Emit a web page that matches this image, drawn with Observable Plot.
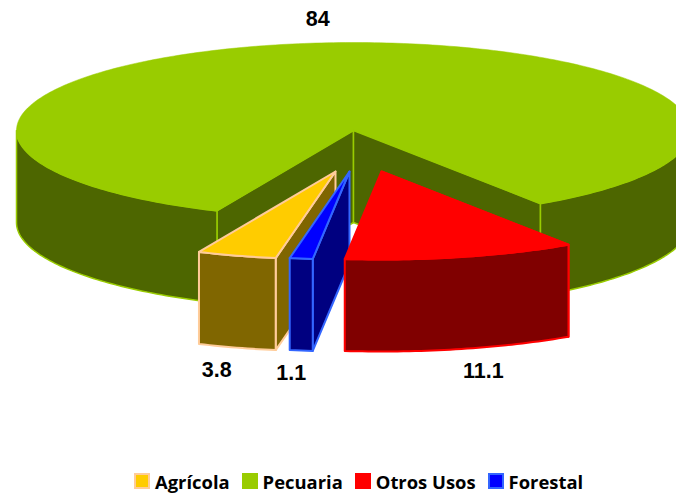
<!DOCTYPE html>
<html>
<head>
<meta charset="utf-8">
<script src="https://cdn.jsdelivr.net/npm/d3@7"></script>
<script src="https://cdn.jsdelivr.net/npm/@observablehq/plot@0.6"></script>
<style>
  html, body { margin: 0; padding: 0; background: #fff; overflow: hidden; }
  #legend { display: flex; justify-content: flex-start; align-items: center; height: 28px; padding-left: 134px;
    font: bold 18.4px "Open Sans", sans-serif; color: #000; white-space: nowrap; }
  #legend .sw { box-sizing: border-box; width: 16px; height: 16px; border-width: 2px; border-style: solid; margin-right: 5px; }
  #legend .it { display: flex; align-items: center; margin-right: 12px; }
</style>
</head>
<body>
<div id="chart"></div>
<div id="legend"></div>
<script>
// Data, in the order the slices run clockwise from the chart's start angle
const categories = ["Otros Usos", "Forestal", "Agrícola", "Pecuaria"];
const values = [11.1, 1.1, 3.8, 84];
const labels = ["11.1", "1.1", "3.8", "84"];
const legendOrder = ["Agrícola", "Pecuaria", "Otros Usos", "Forestal"];

// Styles
const topColors = {"Agrícola": "#ffcc00", "Pecuaria": "#99cc00", "Otros Usos": "#ff0000", "Forestal": "#0000ff"};
const wallColors = {"Agrícola": "#806600", "Pecuaria": "#4d6600", "Otros Usos": "#800000", "Forestal": "#000080"};
const edgeColors = {"Agrícola": "#ffcc99", "Pecuaria": "#99cc00", "Otros Usos": "#ff0000", "Forestal": "#3366ff"};

// 3D pie layout
const W = 676, H = 465;
const cx = 353, cy = 130, rx = 337, ry = 88, depth = 92, startDeg = -33.7;
const explode = {"Agrícola": [-18, 41], "Pecuaria": [0, 0], "Otros Usos": [28, 41], "Forestal": [-4, 41]};
const labelNudge = {"Agrícola": [-20, 22], "Pecuaria": [-7, -24], "Otros Usos": [22, 22], "Forestal": [-10, 23]};

const rad = Math.PI / 180;
const total = d3.sum(values);
let cum = 0;
const slices = categories.map((name, i) => {
  const a0 = startDeg + cum / total * 360;
  cum += values[i];
  const a1 = startDeg + cum / total * 360;
  const [dx, dy] = explode[name];
  return {name, value: values[i], label: labels[i], a0, a1, ox: cx + dx, oy: cy + dy};
});
const pt = (s, deg, z = 0) => ({x: s.ox - rx * Math.sin(deg * rad), y: s.oy + ry * Math.cos(deg * rad) + z});
const arc = (s, a, b, z = 0) => {
  const n = Math.max(2, Math.ceil(Math.abs(b - a)));
  return d3.range(n + 1).map(i => pt(s, a + (b - a) * i / n, z));
};
const apex = (s, z = 0) => ({x: s.ox, y: s.oy + z});

const shape = (pts, fill, stroke, strokeWidth = 2) =>
  Plot.line(pts, {x: "x", y: "y", fill, stroke, strokeWidth, strokeLinejoin: "round", curve: "linear-closed"});

const marks = [];
const get = n => slices.find(s => s.name === n);

// Main slice: inner cut faces, outer wall, top
const g = get("Pecuaria"), gw = wallColors[g.name], ge = edgeColors[g.name], gt = topColors[g.name];
marks.push(shape([apex(g), pt(g, g.a0), pt(g, g.a0, depth), apex(g, depth)], gw, ge, 1.5));
marks.push(shape([apex(g), pt(g, g.a1), pt(g, g.a1, depth), apex(g, depth)], gw, ge, 1.5));
marks.push(shape([...arc(g, g.a0, 90), ...arc(g, 90, g.a0, depth)], gw, ge, 1.5));
marks.push(shape([...arc(g, g.a1, 270), ...arc(g, 270, g.a1, depth)], gw, ge, 1.5));
marks.push(shape([apex(g), ...arc(g, g.a0, g.a1)], gt, gt, 0.5));

// Exploded slices, back to front
for (const n of ["Agrícola", "Forestal", "Otros Usos"]) {
  const s = get(n), w = wallColors[n], e = edgeColors[n], t = topColors[n];
  marks.push(shape([apex(s), pt(s, s.a0), pt(s, s.a0, depth), apex(s, depth)], w, e));
  marks.push(shape([...arc(s, s.a0, s.a1), ...arc(s, s.a1, s.a0, depth)], w, e));
  marks.push(shape([apex(s), ...arc(s, s.a0, s.a1)], t, e));
}

// Value labels
const labelRows = slices.map(s => {
  const mid = (s.a0 + s.a1) / 2;
  const front = s.name !== "Pecuaria";
  const p = pt(s, mid, front ? depth : 0);
  const [nx, ny] = labelNudge[s.name];
  return {x: p.x + nx, y: p.y + ny, text: s.label};
});
marks.push(Plot.text(labelRows, {
  x: "x", y: "y", text: "text", fill: "#000",
  fontFamily: "Liberation Sans", fontWeight: "bold", fontSize: 21.5, textAnchor: "middle"
}));

document.getElementById("chart").append(Plot.plot({
  width: W, height: H + 2,
  margin: 0,
  x: {domain: [0, W], range: [0, W], axis: null},
  y: {domain: [0, H], range: [0, H], axis: null},
  marks
}));

const legend = d3.select("#legend");
for (const n of legendOrder) {
  const it = legend.append("div").attr("class", "it");
  it.append("div").attr("class", "sw").style("background", topColors[n]).style("border-color", edgeColors[n]);
  it.append("span").text(n);
}
</script>
</body>
</html>
